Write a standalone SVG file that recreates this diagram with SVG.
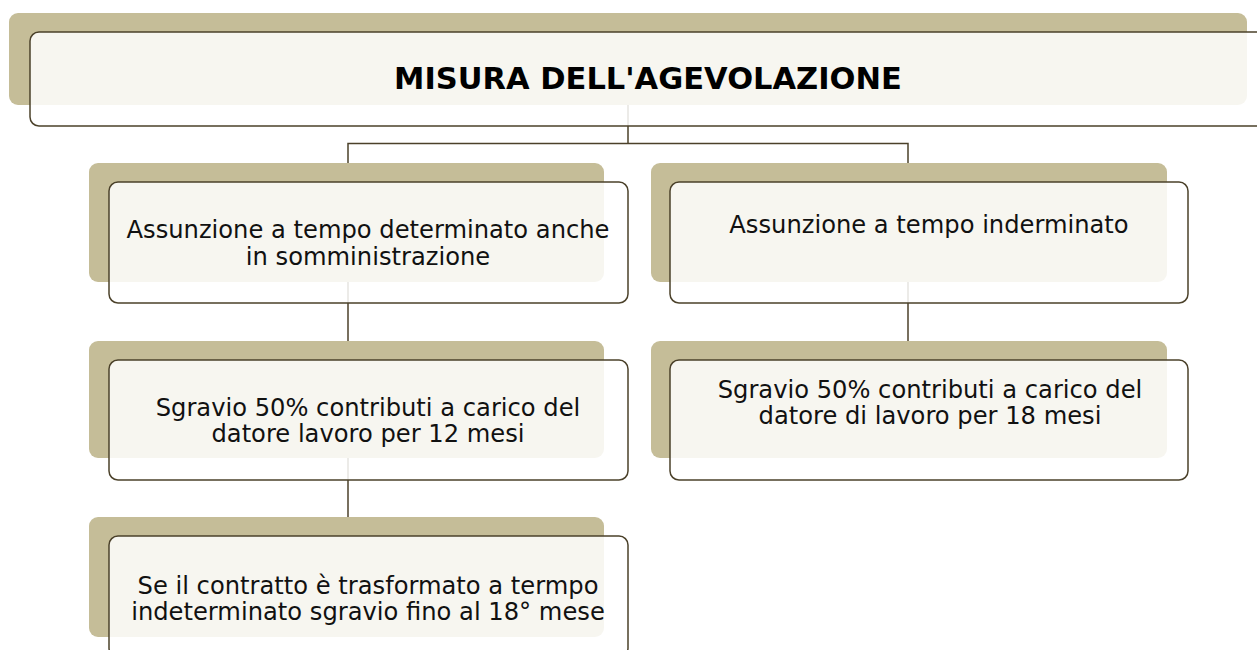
<svg xmlns="http://www.w3.org/2000/svg" width="1257" height="650" viewBox="0 0 1257 650">
<style>
.bg{fill:#C5BD98;}
.fr{fill:#FFFFFF;fill-opacity:0.86;stroke:#4B412A;stroke-width:1.5;}
.conn{fill:none;stroke:#4B412A;stroke-width:1.5;}
.t{font-family:"DejaVu Sans",Verdana,sans-serif;font-size:24.2px;fill:#111;text-anchor:middle;}
.title{font-family:"DejaVu Sans",Verdana,sans-serif;font-size:30.5px;font-weight:bold;fill:#000;text-anchor:middle;}
</style>
<rect width="1257" height="650" fill="#FFFFFF"/>
<g id="connectors">
<path class="conn" d="M628,105 V143.5 M348,163 V143.5 H908 V163"/>
<path class="conn" d="M348,282 V341"/>
<path class="conn" d="M908,282 V341"/>
<path class="conn" d="M348,458 V517"/>
</g>
<g id="node-title">
<rect class="bg" x="9" y="13" width="1238" height="92" rx="9"/>
<rect class="fr" x="30" y="32" width="1245" height="94" rx="9"/>
<text class="title" x="648" y="89">MISURA DELL'AGEVOLAZIONE</text>
</g>
<g id="node-determinato">
<rect class="bg" x="89" y="163" width="515" height="119" rx="9"/>
<rect class="fr" x="109" y="182" width="519" height="121" rx="9"/>
<text class="t" x="368" y="238">Assunzione a tempo determinato anche</text>
<text class="t" x="368" y="265">in somministrazione</text>
</g>
<g id="node-indeterminato">
<rect class="bg" x="651" y="163" width="516" height="119" rx="9"/>
<rect class="fr" x="670" y="182" width="518" height="121" rx="9"/>
<text class="t" x="929" y="233">Assunzione a tempo inderminato</text>
</g>
<g id="node-sgravio12">
<rect class="bg" x="89" y="341" width="515" height="117" rx="9"/>
<rect class="fr" x="109" y="360" width="519" height="120" rx="9"/>
<text class="t" x="368" y="416">Sgravio 50% contributi a carico del</text>
<text class="t" x="368" y="442">datore lavoro per 12 mesi</text>
</g>
<g id="node-sgravio18">
<rect class="bg" x="651" y="341" width="516" height="117" rx="9"/>
<rect class="fr" x="670" y="360" width="518" height="120" rx="9"/>
<text class="t" x="930" y="398">Sgravio 50% contributi a carico del</text>
<text class="t" x="930" y="424">datore di lavoro per 18 mesi</text>
</g>
<g id="node-trasformato">
<rect class="bg" x="89" y="517" width="515" height="120" rx="9"/>
<rect class="fr" x="109" y="536" width="519" height="121" rx="9"/>
<text class="t" x="368" y="594">Se il contratto è trasformato a termpo</text>
<text class="t" x="368" y="620">indeterminato sgravio fino al 18° mese</text>
</g>
</svg>
